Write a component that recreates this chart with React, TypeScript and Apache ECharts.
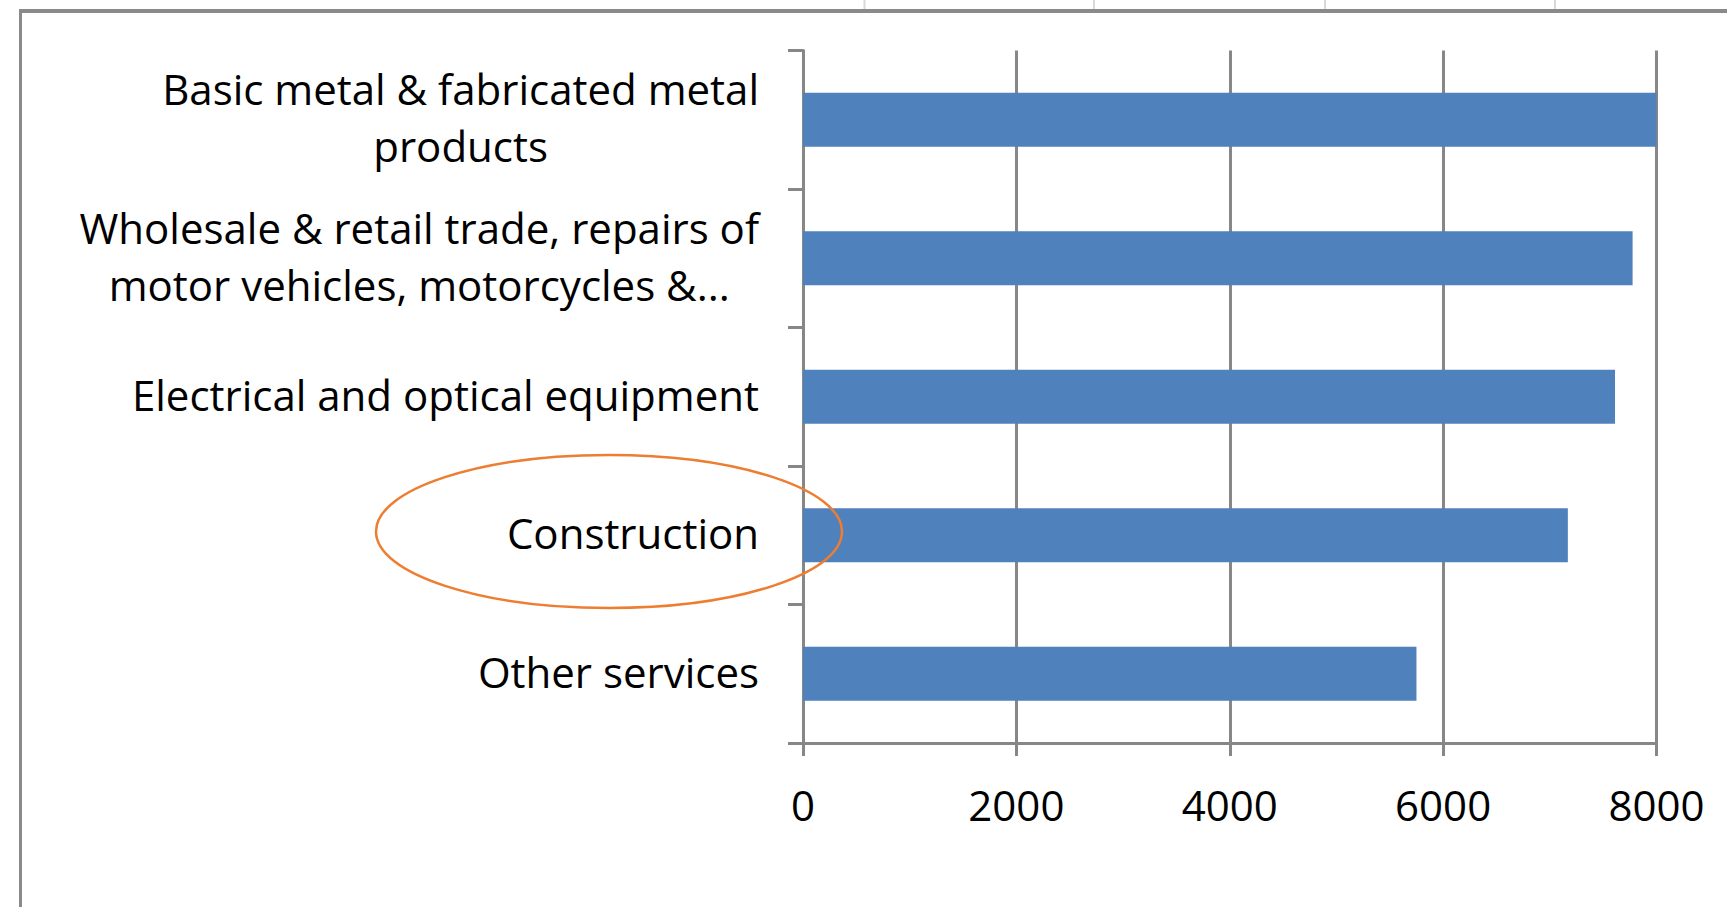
import React, { useEffect, useRef } from "react";
import * as echarts from "echarts";

const categories: string[] = [
  "Basic metal & fabricated metal\nproducts",
  "Wholesale & retail trade, repairs of\nmotor vehicles, motorcycles &...",
  "Electrical and optical equipment",
  "Construction",
  "Other services",
];
const values: number[] = [8000, 7776, 7611, 7169, 5750];
const xMin = 0;
const xMax = 8000;
const xInterval = 2000;

const FONT = "'Open Sans', 'DejaVu Sans', sans-serif";
const AXIS_GRAY = "#878787";

export default function App() {
  const ref = useRef<HTMLDivElement | null>(null);

  useEffect(() => {
    if (!ref.current) return;
    const chart = echarts.init(ref.current, undefined, { renderer: "svg" });
    const option: any = {
      animation: false,
      backgroundColor: "#ffffff",
      grid: {
        left: 803,
        right: 70.5,
        top: 50.5,
        bottom: 164,
        outerBoundsMode: "none",
      },
      xAxis: {
        type: "value",
        min: xMin,
        max: xMax,
        interval: xInterval,
        axisLine: { show: true, lineStyle: { color: AXIS_GRAY, width: 3 } },
        axisTick: { show: true, inside: false, length: 13, lineStyle: { color: AXIS_GRAY, width: 3 } },
        splitLine: { show: true, lineStyle: { color: AXIS_GRAY, width: 3 } },
        axisLabel: {
          margin: 40,
          color: "#000000",
          fontFamily: FONT,
          fontSize: 42,
          formatter: (v: number) => String(v),
        },
      },
      yAxis: {
        type: "category",
        inverse: true,
        data: categories,
        axisLine: { show: true, lineStyle: { color: AXIS_GRAY, width: 3 } },
        axisTick: { show: true, inside: false, length: 15, lineStyle: { color: AXIS_GRAY, width: 3 } },
        splitLine: { show: false },
        axisLabel: {
          interval: 0,
          margin: 44,
          align: "right",
          padding: [0, 0, 5, 0],
          formatter: (v: string) =>
            v
              .split("\n")
              .map((l) => `{c|${l}}`)
              .join("\n"),
          rich: {
            c: {
              align: "center",
              color: "#000000",
              fontFamily: FONT,
              fontSize: 42,
              lineHeight: 57,
            },
          },
        },
      },
      series: [
        {
          type: "bar",
          data: values,
          barWidth: 54,
          itemStyle: { color: "#4F81BD" },
        },
      ],
      graphic: [
        {
          type: "line",
          z: 50,
          shape: { x1: 19, y1: 11, x2: 1727, y2: 11 },
          style: { stroke: "#8a8a8a", lineWidth: 4 },
        },
        {
          type: "line",
          z: 50,
          shape: { x1: 20.5, y1: 9, x2: 20.5, y2: 907 },
          style: { stroke: "#8a8a8a", lineWidth: 3 },
        },
        ...[864.5, 1094, 1325, 1555].map((x) => ({
          type: "line",
          z: 50,
          shape: { x1: x, y1: 0, x2: x, y2: 9 },
          style: { stroke: "#d9d9d9", lineWidth: 2 },
        })),
        {
          type: "ellipse",
          z: 100,
          shape: { cx: 609, cy: 531.5, rx: 233, ry: 76.5 },
          style: { fill: "none", stroke: "#ED7D31", lineWidth: 2.5 },
        },
      ],
    };
    chart.setOption(option);
    return () => {
      chart.dispose();
    };
  }, []);

  return (
    <div
      ref={ref}
      style={{ position: "fixed", left: 0, top: 0, width: 1727, height: 907 }}
    />
  );
}
